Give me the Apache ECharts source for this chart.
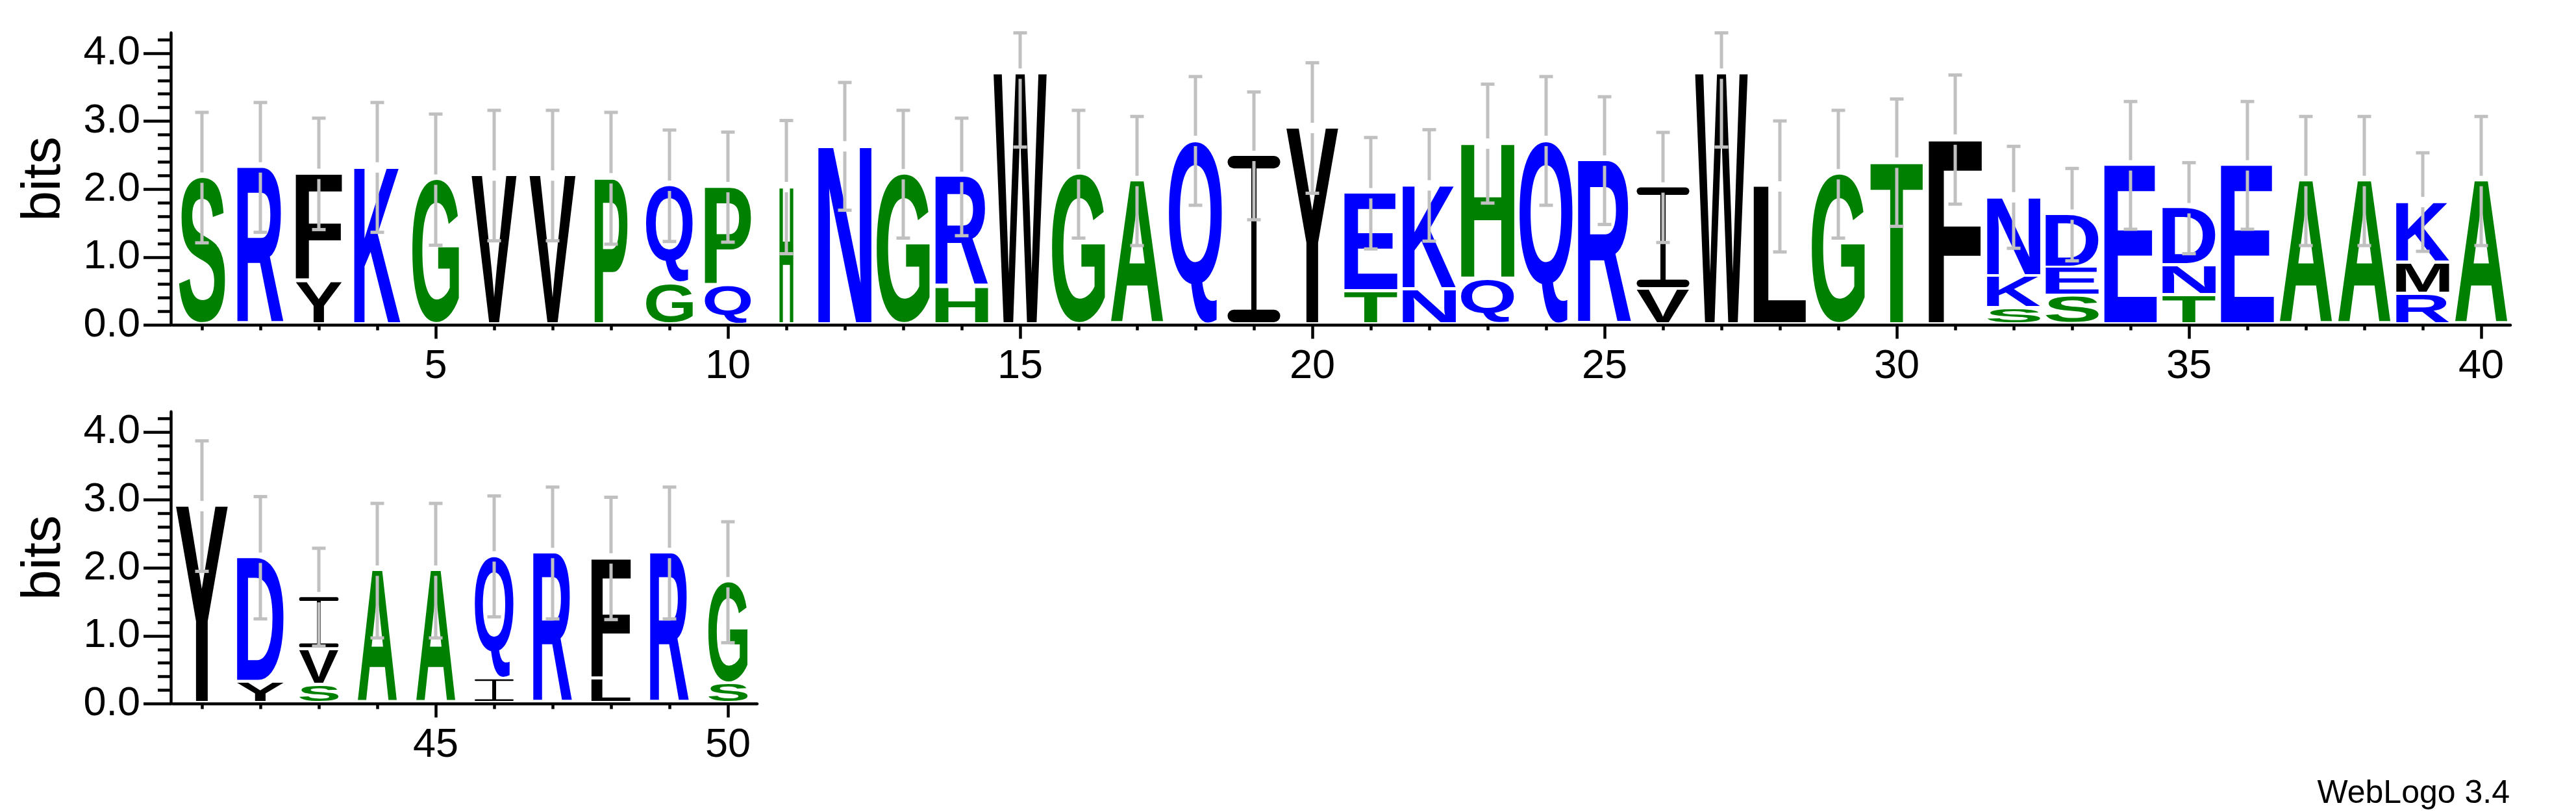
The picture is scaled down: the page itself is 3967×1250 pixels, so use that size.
<!DOCTYPE html>
<html>
<head>
<meta charset="utf-8">
<script src="https://cdn.jsdelivr.net/npm/echarts@6/dist/echarts.min.js"></script>
<style>
html,body{margin:0;padding:0;background:#ffffff;}
#chart{width:3967px;height:1250px;}
</style>
</head>
<body>
<div id="chart"></div>
<script>
// ---------------- DATA ----------------
const positions = [1,2,3,4,5,6,7,8,9,10,11,12,13,14,15,16,17,18,19,20,21,22,23,24,25,26,27,28,29,30,31,32,33,34,35,36,37,38,39,40,41,42,43,44,45,46,47,48,49,50];
// letters of each stack, bottom to top
const stackLetters = ['S','R','YF','K','G','V','V','P','GQ','QP','H','N','G','HR','W','G','A','Q','I','Y','TE','NK','QH','Q','R','VI','W','L','G','T','F','SKN','SED','E','TND','E','A','A','RMK','A','Y','YD','SVI','A','A','IQ','R','LF','R','SG'];
// bits of each letter, bottom to top
const letterBits = [[2.17],[2.32],[0.635,1.59],[2.32],[2.14],[2.20],[2.20],[2.16],[0.60,1.45],[0.58,1.45],[2.03],[2.63],[2.22],[0.55,1.63],[3.70],[2.22],[2.12],[2.71],[2.49],[2.90],[0.49,1.45],[0.515,1.54],[0.67,2.0],[2.71],[2.42],[0.515,1.51],[3.70],[2.04],[2.22],[2.39],[2.73],[0.24,0.47,1.17],[0.415,0.42,0.79],[2.35],[0.43,0.44,0.85],[2.35],[2.12],[2.12],[0.45,0.46,0.90],[2.12],[2.91],[0.31,1.84],[0.265,0.525,0.78],[1.96],[1.96],[0.36,1.81],[2.22],[0.36,1.78],[2.22],[0.29,1.50]];
// error bar half length (bits)
const errorBits = [0.96,0.955,0.82,0.955,0.965,0.96,0.96,0.97,0.82,0.81,0.98,0.94,0.94,0.865,1.08,0.94,0.95,0.947,0.94,0.96,0.82,0.82,0.875,0.947,0.94,0.81,1.08,0.964,0.94,0.937,0.95,0.75,0.68,0.94,0.67,0.94,0.95,0.95,0.725,0.95,0.96,0.90,0.72,0.99,0.99,0.89,0.97,0.90,0.97,0.89];
// stack width weight (fraction of sequences present in column)
const columnWeight = [0.87,0.87,0.87,0.87,0.88,0.85,0.87,0.62,0.88,0.87,0.26,1.0,1.0,0.99,1.0,1.0,0.99,1.0,0.99,0.98,1.0,1.0,1.0,1.0,1.0,0.99,0.99,0.99,1.0,0.99,1.0,1.0,1.0,0.99,1.0,1.0,0.99,0.99,1.0,0.99,0.98,0.88,0.74,0.74,0.74,0.73,0.73,0.74,0.73,0.74];
// tick labels
const xLabelsTop = [5,10,15,20,25,30,35,40];
const xLabelsBottom = [45,50];
const yTickValues = [0,1,2,3,4];
const yMinorTickValues = [0,0.2,0.4,0.6,0.8,1.0,1.2,1.4,1.6,1.8,2.0,2.2,2.4,2.6,2.8,3.0,3.2,3.4,3.6,3.8,4.0,4.2];
const greenLetters = 'SGPHAT';
const blueLetters = 'RKQNED';

// ---------------- STYLE ----------------
const Y_MAX = 4.3;
const FONT_FAMILY = '"Liberation Sans", Arial, Helvetica, sans-serif';
const LETTER_FONT = 'bold 200px ' + FONT_FAMILY;
const STACK_FRAC = 0.91;
const LETTER_GAP = 4.5;
const ERR_COLOR = '#c0c0c0';
const ERR_GAP = 8;
const LINE_W = 4.5;

function colorOf(ch){
  if (greenLetters.indexOf(ch) >= 0) return '#008000';
  if (blueLetters.indexOf(ch) >= 0) return '#0000ff';
  return '#000000';
}

const mctx = document.createElement('canvas').getContext('2d');
mctx.font = LETTER_FONT;
mctx.textAlign = 'center';
mctx.textBaseline = 'middle';
const metricCache = {};
function metric(ch){
  if (!metricCache[ch]) {
    const m = mctx.measureText(ch);
    metricCache[ch] = {L:m.actualBoundingBoxLeft, R:m.actualBoundingBoxRight, A:m.actualBoundingBoxAscent, D:m.actualBoundingBoxDescent};
  }
  return metricCache[ch];
}

// build items
function buildItems(filter){
  const items = [];
  const errs = [];
  positions.forEach(function(p, i){
    if (!filter(p)) return;
    let cum = 0;
    const letters = stackLetters[i];
    letterBits[i].forEach(function(h, j){
      items.push({pos:p, bottom:cum, top:cum+h, ch:letters[j], weight:columnWeight[i]});
      cum += h;
    });
    errs.push([p, cum, errorBits[i]]);
  });
  return {items:items, errs:errs};
}
const topData = buildItems(function(p){return p <= 40;});
const botData = buildItems(function(p){return p > 40;});

function makeLetterRenderer(items){
  return function(params, api){
    const it = items[params.dataIndex];
    const p0 = api.coord([it.pos, it.bottom]);
    const p1 = api.coord([it.pos, it.top]);
    const colW = api.size([1, 0])[0];
    const w = colW * STACK_FRAC * it.weight;
    const x0 = p0[0] - w/2, x1 = p0[0] + w/2;
    const yBot = p0[1] - LETTER_GAP, yTop = p1[1];
    const h = yBot - yTop;
    if (h <= 0) return null;
    const fill = colorOf(it.ch);
    if (it.ch === 'I') {
      const sh = Math.max(2.5, h * 0.075);
      const stem = Math.max(4.5, w * 0.1);
      return {type:'group', silent:true, children:[
        {type:'rect', shape:{x:x0, y:yTop, width:w, height:sh, r:sh/2}, style:{fill:fill}},
        {type:'rect', shape:{x:x0, y:yBot - sh, width:w, height:sh, r:sh/2}, style:{fill:fill}},
        {type:'rect', shape:{x:(x0+x1)/2 - stem/2, y:yTop + sh/2, width:stem, height:h - sh}, style:{fill:fill}}
      ]};
    }
    const m = metric(it.ch);
    const sx = w / (m.L + m.R);
    const sy = h / (m.A + m.D);
    return {
      type:'text', silent:true,
      x: x0 + sx * m.L, y: yTop + sy * m.A,
      scaleX: sx, scaleY: sy,
      style:{text: it.ch, font: LETTER_FONT, fill: fill, align:'center', verticalAlign:'middle', lineHeight:200}
    };
  };
}

function errRenderer(params, api){
  const pos = api.value(0), tot = api.value(1), half = api.value(2);
  const c = api.coord([pos, tot]);
  const up = api.coord([pos, Math.min(tot + half, Y_MAX)])[1];
  const lo = api.coord([pos, Math.max(tot - half, 0)])[1];
  const cx = c[0], cy = c[1];
  const st = {stroke: ERR_COLOR, lineWidth: 5};
  const ch = [];
  if (up < cy - ERR_GAP) ch.push({type:'line', shape:{x1:cx, y1:cy - ERR_GAP, x2:cx, y2:up}, style:st});
  if (lo > cy + ERR_GAP) ch.push({type:'line', shape:{x1:cx, y1:cy + ERR_GAP, x2:cx, y2:lo}, style:st});
  ch.push({type:'rect', shape:{x:cx - 10.5, y:up - 2.5, width:21, height:5}, style:{fill:ERR_COLOR}});
  ch.push({type:'rect', shape:{x:cx - 10.5, y:lo - 2.5, width:21, height:5}, style:{fill:ERR_COLOR}});
  return {type:'group', silent:true, children:ch};
}

const lineStyle = {color:'#000', width:LINE_W};
const labelFont = {fontSize:63, fontFamily:FONT_FAMILY, color:'#000'};

function xAxes(gi, min, max, ticks, labels){
  return [
    {gridIndex:gi, type:'value', min:min, max:max, position:'bottom',
     axisLine:{show:true, onZero:false, lineStyle:lineStyle},
     axisTick:{show:true, customValues:ticks, length:8, lineStyle:lineStyle},
     axisLabel:{show:false}, splitLine:{show:false}},
    {gridIndex:gi, type:'value', min:min, max:max, position:'bottom',
     axisLine:{show:false, onZero:false},
     axisTick:{show:true, customValues:labels, length:21, lineStyle:lineStyle},
     axisLabel:Object.assign({show:true, customValues:labels, margin:33}, labelFont),
     splitLine:{show:false}}
  ];
}
function yAxes(gi){
  return [
    {gridIndex:gi, type:'value', min:0, max:Y_MAX, position:'left', offset:3,
     axisLine:{show:true, lineStyle:lineStyle},
     axisTick:{show:true, customValues:yTickValues, length:42, lineStyle:lineStyle},
     axisLabel:Object.assign({show:true, customValues:yTickValues, margin:47, formatter:function(v){return Number(v).toFixed(1);}}, labelFont),
     splitLine:{show:false}},
    {gridIndex:gi, type:'value', min:0, max:Y_MAX, position:'left', offset:3,
     axisLine:{show:false},
     axisTick:{show:true, customValues:yMinorTickValues, length:20, lineStyle:lineStyle},
     axisLabel:{show:false}, splitLine:{show:false}}
  ];
}

const topTicks = positions.filter(function(p){return p <= 40;});
const botTicks = positions.filter(function(p){return p > 40;});

const option = {
  animation:false,
  backgroundColor:'#ffffff',
  grid:[
    {left:266, right:101, top:50.6, bottom:749.6, containLabel:false, outerBoundsMode:'none'},
    {left:266, right:2801, top:633.7, bottom:166.5, containLabel:false, outerBoundsMode:'none'}
  ],
  xAxis: xAxes(0, 0.5, 40.5, topTicks, xLabelsTop).concat(xAxes(1, 40.5, 50.5, botTicks, xLabelsBottom)),
  yAxis: yAxes(0).concat(yAxes(1)),
  graphic:[
    {type:'text', x:69, y:275.5, rotation:Math.PI/2, silent:true,
     style:{text:'bits', font:'84px ' + FONT_FAMILY, fill:'#000', align:'center', verticalAlign:'middle'}},
    {type:'text', x:69, y:858.6, rotation:Math.PI/2, silent:true,
     style:{text:'bits', font:'84px ' + FONT_FAMILY, fill:'#000', align:'center', verticalAlign:'middle'}},
    {type:'text', x:3865, y:1222.7, silent:true,
     style:{text:'WebLogo 3.4', font:'50px ' + FONT_FAMILY, fill:'#000', align:'right', verticalAlign:'middle'}}
  ],
  series:[
    {type:'custom', name:'lettersTop', xAxisIndex:0, yAxisIndex:0, z:2,
     data: topData.items.map(function(it){return [it.pos, it.bottom, it.top];}),
     encode:{x:0, y:[1,2]}, renderItem: makeLetterRenderer(topData.items)},
    {type:'custom', name:'errorsTop', xAxisIndex:0, yAxisIndex:0, z:3,
     data: topData.errs, encode:{x:0, y:[1]}, renderItem: errRenderer},
    {type:'custom', name:'lettersBottom', xAxisIndex:2, yAxisIndex:2, z:2,
     data: botData.items.map(function(it){return [it.pos, it.bottom, it.top];}),
     encode:{x:0, y:[1,2]}, renderItem: makeLetterRenderer(botData.items)},
    {type:'custom', name:'errorsBottom', xAxisIndex:2, yAxisIndex:2, z:3,
     data: botData.errs, encode:{x:0, y:[1]}, renderItem: errRenderer}
  ]
};

const chart = echarts.init(document.getElementById('chart'), null, {renderer:'canvas', width:3967, height:1250});
chart.setOption(option);
</script>
</body>
</html>
